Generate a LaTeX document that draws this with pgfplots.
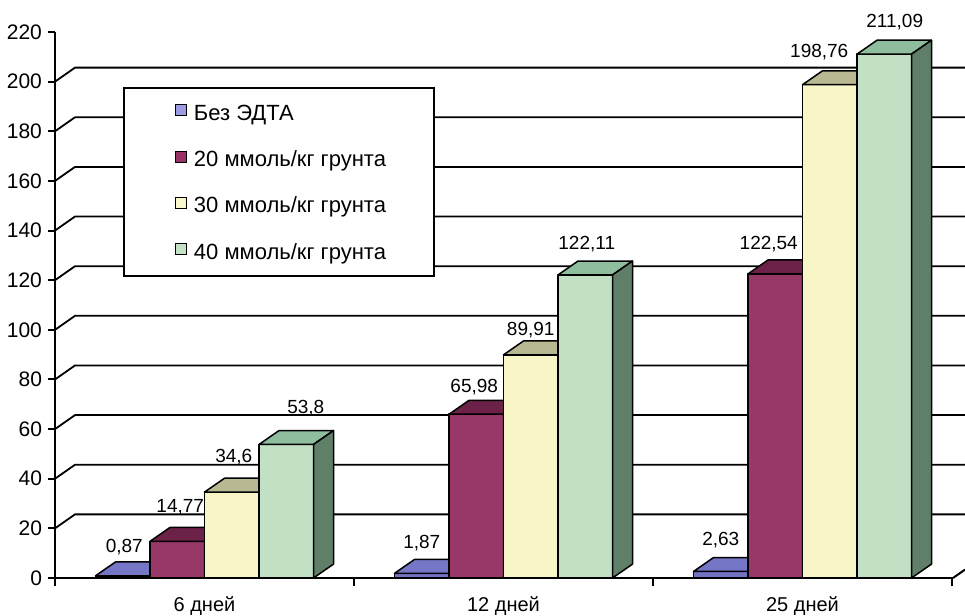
\documentclass[border=0pt]{standalone}
\usepackage{fontspec}
\setmainfont{Liberation Sans}
\usepackage{pgfplots}
\usepackage{pgfplotstable}
\pgfplotsset{compat=1.18}

% legend swatches
\definecolor{legA}{HTML}{9C9CE4}
\definecolor{legB}{HTML}{993366}
\definecolor{legC}{HTML}{FAF8CA}
\definecolor{legD}{HTML}{C4E3C6}
% bar faces: front (F), top (T), side (S)
\definecolor{barF0}{HTML}{7474C4}
\definecolor{barT0}{HTML}{7676C6}
\definecolor{barS0}{HTML}{4A4A8C}
\definecolor{barF1}{HTML}{973868}
\definecolor{barT1}{HTML}{6C2248}
\definecolor{barS1}{HTML}{55183A}
\definecolor{barF2}{HTML}{F8F5C6}
\definecolor{barT2}{HTML}{B8B892}
\definecolor{barS2}{HTML}{8A8A6A}
\definecolor{barF3}{HTML}{C2E0C4}
\definecolor{barT3}{HTML}{8EBE9E}
\definecolor{barS3}{HTML}{5F7F69}

% g = period (6, 12, 25 days), s = EDTA dose series, v = value
% lx, ly = placement of the value label (px right of column centre, px above its top)
\pgfplotstableread{
g s v      lx    ly
0 0 0.87   1.5   29
0 1 14.77  3     34
0 2 34.6   2     35
0 3 53.8   19.5  36
1 0 1.87   0     30
1 1 65.98  -2    27
1 2 89.91  0     25
1 3 122.11 1.5   31
2 0 2.63   0     31.5
2 1 122.54 -6.5  30
2 2 198.76 -10.5 33
2 3 211.09 10.5  32.5
}\bardata

% layout of the 3D columns (x in axis units = px)
\def\grp{299}   % width of one category
\def\gap{40.5}  % space before the first column of a group
\def\bw{54.5}   % column width
\def\dx{20}     % depth offset, x
\def\dy{5.6}    % depth offset, y
\def\ypx{2.482} % px per y unit

\begin{document}
\begin{tikzpicture}
\begin{axis}[
  name=ax,
  scale only axis, width=449pt, height=273pt,
  xmin=0, xmax=898, ymin=0, ymax=220,
  clip=false,
  axis lines*=left,
  axis line style={line width=1pt},
  /pgf/number format/.cd, use comma, assume math mode=true, 1000 sep={},
  /pgfplots/.cd,
  ytick={0,20,...,220},
  tick align=outside,
  ytick style={line width=1pt, black},
  major tick length=3.5pt,
  xtick={149.5,448.5,747.5},
  xticklabels={6 дней,12 дней,25 дней},
  xtick style={draw=none},
  extra x ticks={0,299,598,897},
  extra x tick labels={},
  extra x tick style={xtick style={draw=black, line width=1pt}, major tick length=4pt},
  xticklabel style={font=\fontsize{10}{12}\selectfont, yshift=-2.5pt},
  yticklabel style={font=\fontsize{10.5}{12}\selectfont, xshift=0.5pt},
  legend cell align=left,
  legend image code/.code={%
    \path[draw=none, fill=none] (0pt,0pt) -- (11pt,0pt);
    \draw[#1, line width=0.5pt] (3.5pt,-1.6pt) rectangle (9pt,3.9pt);},
  legend style={
    at={(0.0757,0.899)}, anchor=north west,
    draw=black, line width=1pt, fill=white,
    font=\fontsize{11}{13}\selectfont,
    inner xsep=22.5pt, inner ysep=6.5pt,
    row sep=11.65pt,
    nodes={inner sep=1.5pt, text height=8pt, text depth=0.5pt},
  },
]

% back wall lines with their slanted joins to the front axis
\pgfplotsinvokeforeach{20,40,...,200}{
  \draw[line width=0.9pt] (axis cs:0,#1) -- ([shift={(10pt,7pt)}]axis cs:0,#1)
    -- ([shift={(0pt,7pt)}]axis cs:910,#1);
}
% right edge of the floor
\draw[line width=1pt] (axis cs:898,0) -- ([shift={(6pt,4.2pt)}]axis cs:898,0);

% 3D columns: front, top and side faces
\pgfplotstablegetrowsof{\bardata}
\pgfmathtruncatemacro\nrows{\pgfplotsretval-1}
\pgfplotsforeachungrouped \i in {0,...,\nrows}{
  \pgfplotstablegetelem{\i}{g}\of\bardata \let\g=\pgfplotsretval
  \pgfplotstablegetelem{\i}{s}\of\bardata \let\s=\pgfplotsretval
  \pgfplotstablegetelem{\i}{v}\of\bardata \let\v=\pgfplotsretval
  \pgfmathsetmacro\xa{\grp*\g+\gap+\bw*\s}
  \pgfmathsetmacro\xb{\xa+\bw}
  \pgfmathsetmacro\xc{\xa+\dx}
  \pgfmathsetmacro\xd{\xb+\dx}
  \pgfmathsetmacro\vt{\v+\dy}
  \edef\barcmd{%
    \noexpand\addplot[forget plot, fill=barF\s, draw=black, line width=0.75pt, line join=round]
      coordinates {(\xa,0) (\xb,0) (\xb,\v) (\xa,\v)} -- cycle;
    \noexpand\addplot[forget plot, fill=barT\s, draw=black, line width=0.75pt, line join=round]
      coordinates {(\xa,\v) (\xb,\v) (\xd,\vt) (\xc,\vt)} -- cycle;
    \noexpand\addplot[forget plot, fill=barS\s, draw=black, line width=0.75pt, line join=round]
      coordinates {(\xb,0) (\xd,\dy) (\xd,\vt) (\xb,\v)} -- cycle;
  }\barcmd
}

% value labels
\addplot[forget plot, draw=none, nodes near coords, point meta=explicit,
  every node near coord/.append style={anchor=center,
    font=\fontsize{9.5}{11}\selectfont}]
  table[x expr=\grp*\thisrow{g}+\gap+\bw*\thisrow{s}+\bw/2+\thisrow{lx},
        y expr=\thisrow{v}+\thisrow{ly}/\ypx, meta=v]{\bardata};

\addlegendimage{fill=legA, draw=black}
\addlegendentry{Без ЭДТА}
\addlegendimage{fill=legB, draw=black}
\addlegendentry{20 ммоль/кг грунта}
\addlegendimage{fill=legC, draw=black}
\addlegendentry{30 ммоль/кг грунта}
\addlegendimage{fill=legD, draw=black}
\addlegendentry{40 ммоль/кг грунта}
\end{axis}
\pgfresetboundingbox
\path[use as bounding box] ([xshift=-27.5pt,yshift=-19pt]ax.south west) rectangle ++(482.5pt,308pt);
\end{tikzpicture}
\end{document}
